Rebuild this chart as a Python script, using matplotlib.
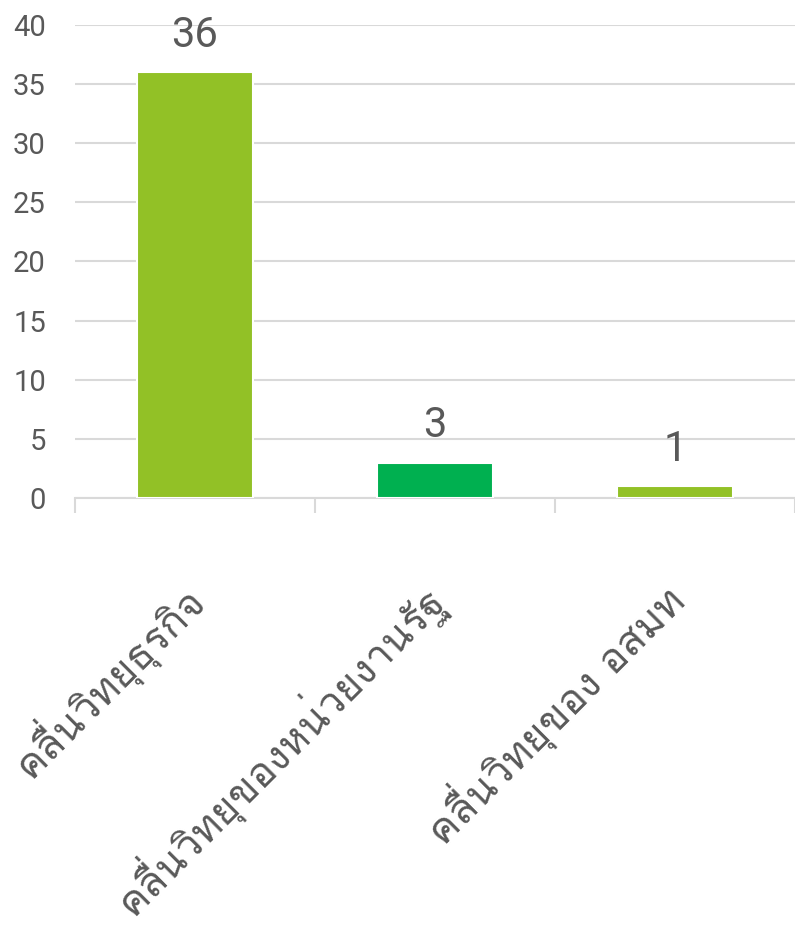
import matplotlib
matplotlib.use("Agg")
import matplotlib.pyplot as plt
from matplotlib import font_manager
from fontTools.ttLib import TTFont

categories = ["คลื่นวิทยุธุรกิจ", "คลื่นวิทยุของหน่วยงานรัฐ", "คลื่นวิทยุของ อสมท"]
values = [36, 3, 1]
colors = ["#92C126", "#00B050", "#92C126"]
yticks = [0, 5, 10, 15, 20, 25, 30, 35, 40]


def thai_fonts():
    # look for any installed family that has Thai glyphs
    found = []
    for f in font_manager.fontManager.ttflist:
        try:
            cmap = TTFont(f.fname, fontNumber=0, lazy=True).getBestCmap()
        except Exception:
            continue
        if cmap and 0x0E04 in cmap and f.name not in found:
            found.append(f.name)
    return found


thai = thai_fonts()[:1]

fig = plt.figure(figsize=(7.95, 9.27), dpi=100)
ax = fig.add_axes([75 / 795, 1 - 498 / 927, 720 / 795, 473 / 927])

x = list(range(len(values)))
ax.bar(x, values, width=0.485, color=colors, edgecolor="white", linewidth=1.5, zorder=3)
for xi, v in zip(x, values):
    ax.text(xi, v + 1.4, str(v), ha="center", va="bottom", fontsize=30,
            color="#595959", family="Roboto", zorder=4)

ax.set_xlim(-0.5, 2.5)
ax.set_ylim(0, 40)
ax.set_yticks(yticks)
ax.yaxis.grid(True, color="#D9D9D9", linewidth=1.5, zorder=0)
ax.tick_params(axis="y", length=0, pad=21, labelsize=21, labelcolor="#595959")
for lab in ax.get_yticklabels():
    lab.set_family("Roboto")

ax.set_xticks([-0.5, 0.5, 1.5, 2.5])
ax.set_xticklabels([])
ax.tick_params(axis="x", length=11, width=1.5, color="#D9D9D9")
for side in ["top", "right", "left"]:
    ax.spines[side].set_visible(False)
ax.spines["bottom"].set_color("#D9D9D9")
ax.spines["bottom"].set_linewidth(1.5)

for xi, name in zip(x, categories):
    ax.text(xi + 0.005, -7.9, name, rotation=45, ha="right", va="center",
            rotation_mode="anchor", fontsize=29.5, color="#595959",
            family=thai + ["DejaVu Sans"])

fig.savefig("out.png", dpi=100)
